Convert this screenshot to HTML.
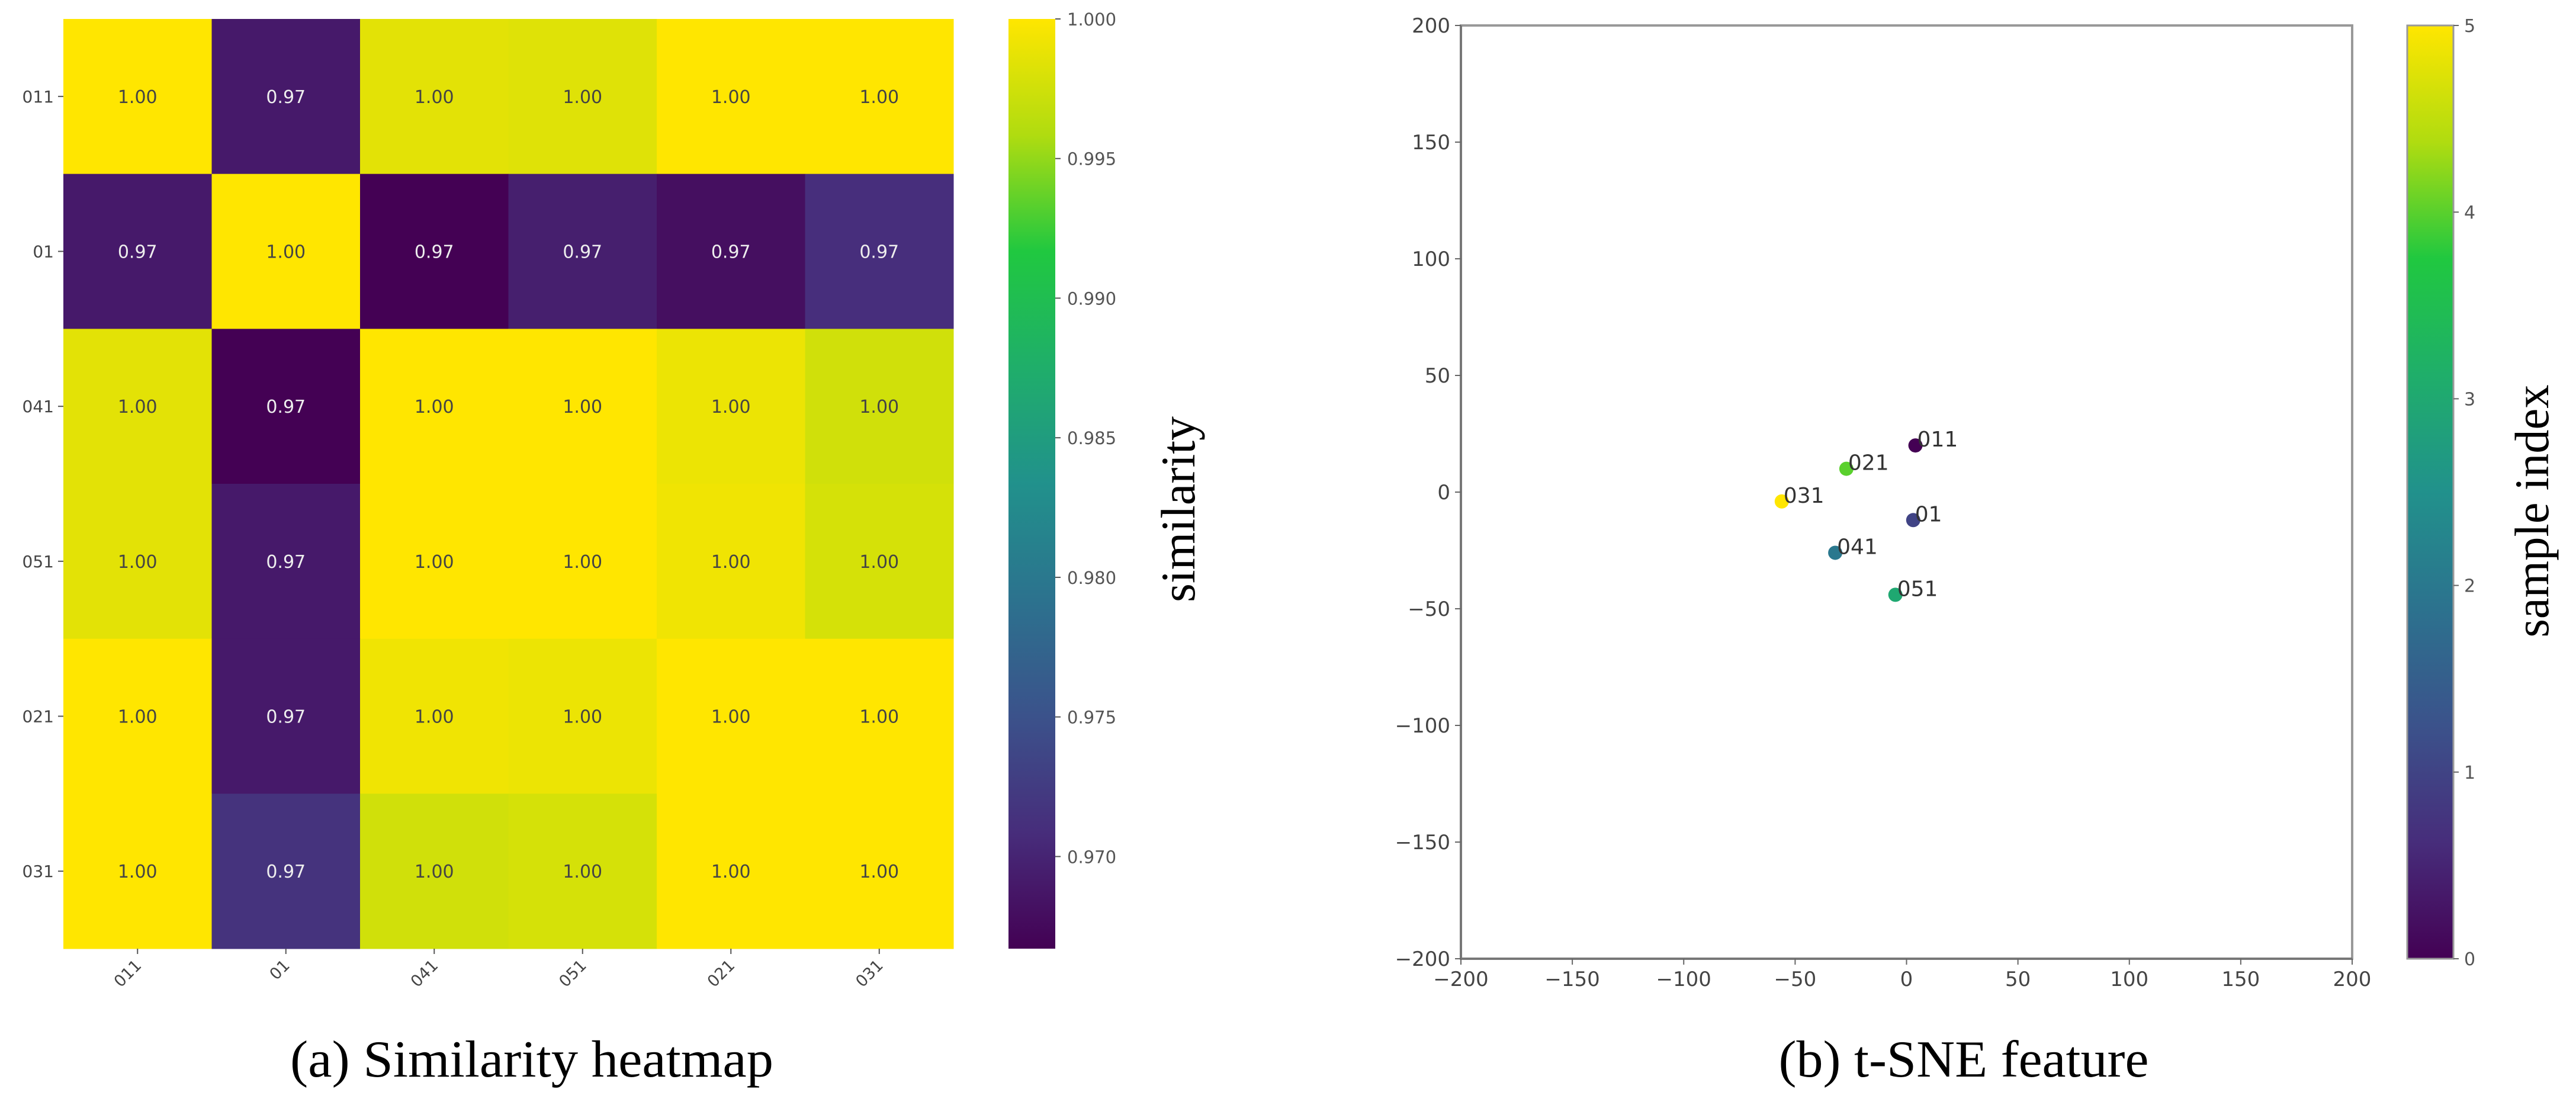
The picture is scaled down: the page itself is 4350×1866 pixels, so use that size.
<!DOCTYPE html>
<html><head><meta charset="utf-8"><style>html,body{margin:0;padding:0;background:#fff}svg{display:block}</style></head>
<body>
<svg id="fig" xmlns="http://www.w3.org/2000/svg" width="4350" height="1866" viewBox="0 0 4350 1866">
<rect width="4350" height="1866" fill="#fff"/>
<defs>
<linearGradient id="vir" x1="0" y1="1" x2="0" y2="0">
<stop offset="0" stop-color="#440154"/><stop offset="0.125" stop-color="#472d7b"/><stop offset="0.25" stop-color="#3b528b"/><stop offset="0.375" stop-color="#2c728e"/><stop offset="0.5" stop-color="#21918c"/><stop offset="0.625" stop-color="#1fae6a"/><stop offset="0.75" stop-color="#20c840"/><stop offset="0.875" stop-color="#b0dc10"/><stop offset="1" stop-color="#ffe600"/>
</linearGradient>
</defs>
<g id="heat"></g>
<g id="tsne"></g>
<text x="898" y="1818" font-family="Liberation Serif, serif" font-size="88" text-anchor="middle" textLength="816" lengthAdjust="spacingAndGlyphs">(a) Similarity heatmap</text>
<text x="3316" y="1818" font-family="Liberation Serif, serif" font-size="88" text-anchor="middle" textLength="625" lengthAdjust="spacingAndGlyphs">(b) t-SNE feature</text>
</svg>
<script>
const heatLabels = ["011","01","041","051","021","031"];
const heatRow0 = [1.000, 0.9690, 0.9985, 0.9983, 1.000, 1.000];
const heatRow1 = [0.9690, 1.000, 0.9667, 0.9695, 0.9680, 0.9710];
const heatRow2 = [0.9985, 0.9667, 1.000, 1.000, 0.9990, 0.9975];
const heatRow3 = [0.9985, 0.9690, 1.000, 1.000, 0.9992, 0.9978];
const heatRow4 = [1.000, 0.9690, 0.9992, 0.9990, 1.000, 1.000];
const heatRow5 = [1.000, 0.9715, 0.9975, 0.9978, 1.000, 1.000];
const heatCbTicks = [0.970, 0.975, 0.980, 0.985, 0.990, 0.995, 1.000];
const tsneNames = ["011","01","041","051","021","031"];
const tsneX = [4, 3, -32, -5, -27, -56];
const tsneY = [20, -12, -26, -44, 10, -4];
const tsneIdx = [0, 1, 2, 3, 4, 5];
const tsneTicks = [-200,-150,-100,-50,0,50,100,150,200];
const tsneCbTicks = [0,1,2,3,4,5];

const NS="http://www.w3.org/2000/svg";
const VIR=["#440154","#472d7b","#3b528b","#2c728e","#21918c","#1fae6a","#20c840","#b0dc10","#ffe600"];
function hex(h){return [1,3,5].map(i=>parseInt(h.substr(i,2),16));}
function viridis(t){t=Math.max(0,Math.min(1,t));const p=t*8,i=Math.min(7,Math.floor(p)),f=p-i;const a=hex(VIR[i]),b=hex(VIR[i+1]);return "rgb("+a.map((v,k)=>Math.round(v+(b[k]-v)*f)).join(",")+")";}
function mk(tag,at,parent,txt){const e=document.createElementNS(NS,tag);for(const k in at)e.setAttribute(k,at[k]);if(txt!=null)e.textContent=txt;parent.appendChild(e);return e;}

// Heatmap
const H=document.getElementById('heat');
const hx0=107,hy0=32,hx1=1610,hy1=1602,vmin=0.9667,vmax=1.0;
const rows=[heatRow0,heatRow1,heatRow2,heatRow3,heatRow4,heatRow5];
const cw=(hx1-hx0)/heatLabels.length,ch=(hy1-hy0)/rows.length;
rows.forEach((row,r)=>row.forEach((v,c)=>{
  const t=(v-vmin)/(vmax-vmin);
  const cell=mk('rect',{x:hx0+c*cw,y:hy0+r*ch,width:cw+0.5,height:ch+0.5,fill:viridis(t)},H);
  
  
  const tx=mk('text',{x:hx0+(c+0.5)*cw,y:hy0+(r+0.5)*ch+11,'font-family':'DejaVu Sans, sans-serif','font-size':30,'text-anchor':'middle',fill:t<0.5?'#eeeeee':'#444'},H,v.toFixed(2));
  
  
}));
heatLabels.forEach((l,i)=>{
  const y=hy0+(i+0.5)*ch;
  mk('line',{x1:hx0-9,x2:hx0,y1:y,y2:y,stroke:'#555','stroke-width':2},H);
  const t=mk('text',{x:hx0-16,y:y+10,'font-family':'DejaVu Sans, sans-serif','font-size':28,'text-anchor':'end',fill:'#444'},H,l);
  
  
  const x=hx0+(i+0.5)*cw;
  mk('line',{x1:x,x2:x,y1:hy1,y2:hy1+9,stroke:'#555','stroke-width':2},H);
  const t2=mk('text',{x:x+8,y:hy1+30,'font-family':'DejaVu Sans, sans-serif','font-size':27,'text-anchor':'end',fill:'#444',transform:'rotate(-45 '+(x+8)+' '+(hy1+30)+')'},H,l);
  
  
});
const cbx=1703,cbw=79;
const cb=mk('rect',{x:cbx,y:hy0,width:cbw,height:hy1-hy0,fill:'url(#vir)'},H);


heatCbTicks.forEach(v=>{
  const y=hy1-(v-vmin)/(vmax-vmin)*(hy1-hy0);
  mk('line',{x1:cbx+cbw,x2:cbx+cbw+9,y1:y,y2:y,stroke:'#555','stroke-width':2},H);
  const t=mk('text',{x:cbx+cbw+20,y:y+11,'font-family':'DejaVu Sans, sans-serif','font-size':29,fill:'#555'},H,v.toFixed(3));
  
  
});
const st=mk('text',{x:2017,y:860,'font-family':'Liberation Serif, serif','font-size':82,'text-anchor':'middle',transform:'rotate(-90 2017 860)',textLength:314,lengthAdjust:'spacingAndGlyphs'},H,'similarity');



// t-SNE
const T=document.getElementById('tsne');
const px0=2467,px1=3972,py0=43,py1=1619;
const sx=v=>px0+(v+200)/400*(px1-px0), sy=v=>py1-(v+200)/400*(py1-py0);
const fr=mk('rect',{x:px0,y:py0,width:px1-px0,height:py1-py0,fill:'none',stroke:'#999','stroke-width':4},T);


mk('line',{x1:px0,x2:px1,y1:py1,y2:py1,stroke:'#777','stroke-width':4},T);
mk('line',{x1:px0,x2:px0,y1:py0,y2:py1,stroke:'#777','stroke-width':4},T);
tsneTicks.forEach(v=>{
  const x=sx(v),y=sy(v),lab=String(v).replace('-','\u2212');
  mk('line',{x1:x,x2:x,y1:py1,y2:py1+10,stroke:'#666','stroke-width':2},T);
  const a=mk('text',{x:x,y:py1+46,'font-family':'DejaVu Sans, sans-serif','font-size':34,'text-anchor':'middle',fill:'#444'},T,lab);
  
  
  mk('line',{x1:px0-10,x2:px0,y1:y,y2:y,stroke:'#666','stroke-width':2},T);
  const b=mk('text',{x:px0-18,y:y+12,'font-family':'DejaVu Sans, sans-serif','font-size':34,'text-anchor':'end',fill:'#444'},T,lab);
  
  
});
tsneNames.forEach((n,i)=>{
  const x=sx(tsneX[i]),y=sy(tsneY[i]);
  const c=mk('circle',{cx:x,cy:y,r:12,fill:viridis(tsneIdx[i]/5)},T);
  
  
  const t=mk('text',{x:x+3,y:y+2,'font-family':'DejaVu Sans, sans-serif','font-size':36,fill:'#333'},T,n);
  
  
});
const cb2x=4065,cb2w=78;
const cb2=mk('rect',{x:cb2x,y:py0,width:cb2w,height:py1-py0,fill:'url(#vir)',stroke:'#999','stroke-width':3},T);


tsneCbTicks.forEach(v=>{
  const y=py1-v/5*(py1-py0);
  mk('line',{x1:cb2x+cb2w,x2:cb2x+cb2w+9,y1:y,y2:y,stroke:'#666','stroke-width':2},T);
  const t=mk('text',{x:cb2x+cb2w+18,y:y+11,'font-family':'DejaVu Sans, sans-serif','font-size':30,fill:'#555'},T,String(v));
  
  
});
const st2=mk('text',{x:4303,y:863,'font-family':'Liberation Serif, serif','font-size':82,'text-anchor':'middle',transform:'rotate(-90 4303 863)',textLength:427,lengthAdjust:'spacingAndGlyphs'},T,'sample index');


</script>
</body></html>
